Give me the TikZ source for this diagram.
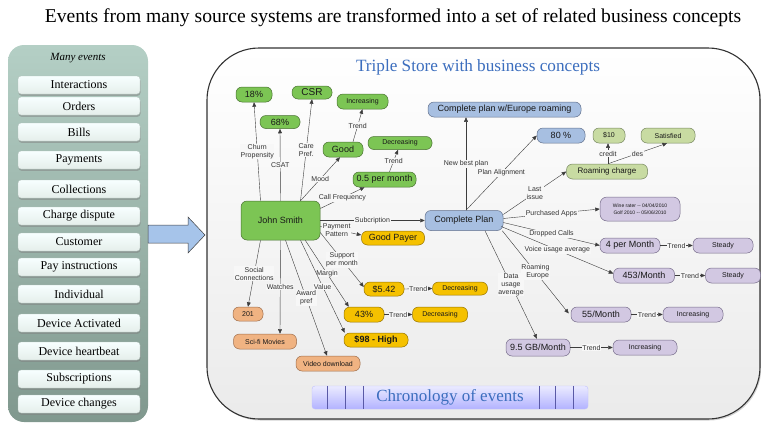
\documentclass[tikz,border=0pt]{standalone}
\usepackage{fontspec}
\setmainfont{Liberation Serif}
\newfontfamily\arialfont{Liberation Sans}
\usepackage{tikz}
\usetikzlibrary{positioning}
\usetikzlibrary{calc}
\usetikzlibrary{arrows.meta}
\usetikzlibrary{shadows}

\definecolor{greenFill}{RGB}{124,197,84}
\definecolor{greenLine}{RGB}{72,112,48}
\definecolor{oliveFill}{RGB}{200,219,162}
\definecolor{oliveLine}{RGB}{118,134,96}
\definecolor{blueFill}{RGB}{167,191,225}
\definecolor{blueLine}{RGB}{98,112,140}
\definecolor{purpleFill}{RGB}{210,200,226}
\definecolor{purpleLine}{RGB}{118,108,138}
\definecolor{yellowFill}{RGB}{245,193,0}
\definecolor{yellowLine}{RGB}{148,114,0}
\definecolor{salmonFill}{RGB}{240,179,130}
\definecolor{salmonLine}{RGB}{158,110,76}
\definecolor{sideTop}{RGB}{180,207,197}
\definecolor{sideBottom}{RGB}{128,152,142}
\definecolor{titleBlue}{RGB}{60,110,190}
\definecolor{arrowBlue}{RGB}{166,196,234}
\definecolor{linkGray}{RGB}{60,60,60}

\tikzset{
	concept/.style={draw, rounded corners=6pt, inner sep=1pt, line width=0.5pt,
		text=black!90, font=\arialfont\fontsize{9}{10}\selectfont},
	minor/.style={font=\arialfont\fontsize{7}{8}\selectfont},
	greenConcept/.style={concept, fill=greenFill, draw=greenLine},
	oliveConcept/.style={concept, fill=oliveFill, draw=oliveLine},
	blueConcept/.style={concept, fill=blueFill, draw=blueLine},
	purpleConcept/.style={concept, fill=purpleFill, draw=purpleLine},
	yellowConcept/.style={concept, fill=yellowFill, draw=yellowLine},
	salmonConcept/.style={concept, fill=salmonFill, draw=salmonLine},
	link/.style={draw=linkGray, line width=0.4pt, -{Triangle[length=4.5pt, width=3.8pt]}},
	lbl/.style={font=\arialfont\fontsize{7}{8}\selectfont, fill=black!3, inner sep=0.6pt,
		align=center, text=black!80},
	eventBox/.style={rounded corners=3pt, minimum width=122pt, minimum height=18pt,
		inner sep=0pt, top color=white!97!cyan, bottom color=sideTop!35!white,
		draw=sideBottom!60!white, line width=0.3pt,
		drop shadow={shadow xshift=0.5pt, shadow yshift=-1.8pt, opacity=0.5},
		font=\fontsize{12}{13}\selectfont},
}

\begin{document}
\begin{tikzpicture}[x=1pt, y=-1pt]
\useasboundingbox (0,0) rectangle (761,426);

\node[font=\fontsize{19.6}{22}\selectfont] (title) at (393,18)
	{Events from many source systems are transformed into a set of related business concepts};

% --- many events
\node[
	rounded corners=16pt,
	top color=sideTop,
	bottom color=sideBottom,
	minimum width=140pt,
	minimum height=377pt
] (events) at (78,233.5) {};

\node[font=\itshape\fontsize{11}{12}\selectfont] (manyEvents) at (78,58) {Many events};

\node[eventBox] (interactions) at (79,85) {Interactions};
\node[eventBox] (orders) at (79,106) {Orders};
\node[eventBox] (bills) at (79,132) {Bills};
\node[eventBox] (payments) at (79,160) {Payments};
\node[eventBox] (collections) at (79,189) {Collections};
\node[eventBox] (dispute) at (79,216) {Charge dispute};
\node[eventBox] (customer) at (79,242) {Customer};
\node[eventBox] (payInstructions) at (79,267) {Pay instructions};
\node[eventBox] (individual) at (79,294) {Individual};
\node[eventBox] (activated) at (79,323) {Device Activated};
\node[eventBox] (heartbeat) at (79,351) {Device heartbeat};
\node[eventBox] (subscriptions) at (79,379) {Subscriptions};
\node[eventBox] (deviceChanges) at (79,404) {Device changes};

% --- transform arrow
\draw[draw=black!75, fill=arrowBlue, line width=0.5pt]
	(148,225) -- (188,225) -- (188,217) -- (205,235) -- (188,253) -- (188,243) -- (148,243) -- cycle;

% --- triple store
\node[
	draw=black!80,
	line width=1.1pt,
	rounded corners=52pt,
	top color=white,
	bottom color=black!8,
	drop shadow={shadow xshift=1.2pt, shadow yshift=-1.5pt, opacity=0.35},
	minimum width=553pt,
	minimum height=371pt
] (store) at (483.5,233.5) {};

\node[font=\fontsize{17.2}{19}\selectfont, text=titleBlue] (storeTitle) at (478,67)
	{Triple Store with business concepts};

\node[
	rounded corners=3pt,
	top color=blue!8,
	bottom color=blue!30!white,
	draw=blue!25!white,
	minimum width=276pt,
	minimum height=23pt,
	font=\fontsize{17}{20}\selectfont,
	text=titleBlue
] (chrono) at (450,397.5) {Chronology of events};

\draw[blue!30!gray] ($(chrono.north west)+(15,0)$) -- ($(chrono.south west)+(15,0)$);
\draw[blue!30!gray] ($(chrono.north west)+(33,0)$) -- ($(chrono.south west)+(33,0)$);
\draw[blue!30!gray] ($(chrono.north west)+(51,0)$) -- ($(chrono.south west)+(51,0)$);
\draw[blue!30!gray] ($(chrono.north east)+(-15,0)$) -- ($(chrono.south east)+(-15,0)$);
\draw[blue!30!gray] ($(chrono.north east)+(-33,0)$) -- ($(chrono.south east)+(-33,0)$);
\draw[blue!30!gray] ($(chrono.north east)+(-49,0)$) -- ($(chrono.south east)+(-49,0)$);

% --- customer concepts
\node[greenConcept, minimum width=79pt, minimum height=39pt] (johnSmith) at (280.5,220.5) {John Smith};
\node[greenConcept, minimum width=36pt, minimum height=15pt] (churn) at (254,94.5) {18\%};
\node[greenConcept, minimum width=40pt, minimum height=13pt] (csat) at (280,122) {68\%};
\node[greenConcept, minimum width=40pt, minimum height=13pt, font=\arialfont\fontsize{10}{11}\selectfont] (carePref) at (312,92.5) {CSR};
\node[greenConcept, minimum width=40pt, minimum height=15pt] (mood) at (343,149.5) {Good};
\node[greenConcept, minor, minimum width=51pt, minimum height=15pt] (moodTrend) at (362.5,101.5) {Increasing};
\node[greenConcept, minimum width=63pt, minimum height=15pt] (callFreq) at (384.5,179.5) {0.5 per month};
\node[greenConcept, minor, minimum width=64pt, minimum height=13pt] (callTrend) at (400,143) {Decreasing};

\draw[link] ($(johnSmith.north)+(-20,0)$) -- (churn.south)
	node[midway, lbl]{Churn\\Propensity};
\draw[link] (johnSmith.north) -- (csat.south)
	node[midway, lbl]{CSAT};
\draw[link] ($(johnSmith.north)+(20,0)$) -- (carePref.south)
	node[midway, lbl]{Care\\Pref.};
\draw[link] ($(johnSmith.north)+(20,0)$) -- ($(mood.south)+(-3,0)$)
	node[midway, lbl]{Mood};
\draw[link] ($(johnSmith.east)+(0,-12)$) -- ($(callFreq.south)+(-20,0)$)
	node[midway, lbl]{Call Frequency};
\draw[link] ($(mood.north)+(10,0)$) -- (moodTrend.south)
	node[midway, lbl]{Trend};
\draw[link] ($(callFreq.north)+(5,0)$) -- ($(callTrend.south)+(-2,0)$)
	node[midway, lbl]{Trend};

% ---
\node[yellowConcept, minimum width=63pt, minimum height=14pt] (goodPayer) at (393,238) {Good Payer};
\node[yellowConcept, minimum width=40pt, minimum height=14pt] (support) at (384,289) {\$5.42};
\node[yellowConcept, minor, minimum width=55pt, minimum height=13pt] (supportTrend) at (460,288.5) {Decreasing};
\node[yellowConcept, minimum width=40pt, minimum height=15pt] (margin) at (364,314.5) {43\%};
\node[yellowConcept, minor, minimum width=55pt, minimum height=15pt] (marginTrend) at (440,314.5) {Decreasing};
\node[yellowConcept, minimum width=64pt, minimum height=14pt, font=\arialfont\bfseries\fontsize{9}{10}\selectfont] (value) at (376,340) {\$98 - High};

\draw[link] ($(johnSmith.east)+(0,6)$) -- ($(goodPayer.west)+(0,-3)$)
	node[pos=0.4, lbl]{Payment\\Pattern};
\draw[link] ($(johnSmith.east)+(0,12)$) -- ($(support.west)+(0,-2)$)
	node[midway, lbl]{Support\\per month};
\draw[link] (support.east) -- (supportTrend.west)
	node[midway, lbl]{Trend};
\draw[link] ($(johnSmith.south east)+(-15,0)$) -- ($(margin.north west)+(5,0)$)
	node[midway, lbl]{Margin};
\draw[link] (margin.east) -- (marginTrend.west)
	node[midway, lbl]{Trend};
\draw[link] ($(johnSmith.south)+(20,0)$) -- ($(value.north west)+(1,0)$)
	node[midway, lbl]{Value};

% ---
\node[salmonConcept, minor, minimum width=30pt, minimum height=14pt] (social) at (248,314) {201};
\node[salmonConcept, minor, minimum width=63pt, minimum height=15pt] (watches) at (265,341.5) {Sci-fi Movies};
\node[salmonConcept, minor, minimum width=64pt, minimum height=15pt] (award) at (328,363.5) {Video download};

\draw[link] ($(johnSmith.south)+(-20,0)$) -- (social.north)
	node[midway, lbl]{Social\\Connections};
\draw[link] (johnSmith.south) -- ($(watches.north)+(15,0)$)
	node[midway, lbl]{Watches};
\draw[link] ($(johnSmith.south)+(5,0)$) -- ($(award.north)+(-1,0)$)
	node[midway, lbl]{Award\\pref};

% --- plan concepts
\node[blueConcept, minimum width=78pt, minimum height=20pt] (completePlan) at (464,220.5) {Complete Plan};
\node[blueConcept, minimum width=153pt, minimum height=15pt] (bestPlan) at (504.5,109.5) {Complete plan w/Europe roaming};
\node[blueConcept, minimum width=48pt, minimum height=15pt] (alignment) at (561,135.5) {80 \%};
\node[oliveConcept, font=\arialfont\fontsize{8}{9}\selectfont, minimum width=81pt, minimum height=15pt] (roamingCharge) at (607,171.5) {Roaming charge};
\node[oliveConcept, minor, minimum width=32pt, minimum height=15pt] (credit) at (609,135.5) {\$10};
\node[oliveConcept, minor, minimum width=54pt, minimum height=15pt] (satisfied) at (668,135.5) {Satisfied};

\draw[link] (johnSmith.east) -- (completePlan.west)
	node[midway, lbl]{Subcription};
\draw[link] ($(completePlan.north)+(2,0)$) -- ($(bestPlan.south)+(-38.5,0)$)
	node[midway, lbl]{New best plan};
\draw[link] ($(completePlan.north)+(2,0)$) -- (alignment.west)
	node[midway, lbl]{Plan Alignment};
\draw[link] ($(completePlan.east)+(0,-6)$) -- (roamingCharge.west)
	node[midway, lbl]{Last\\issue};
\draw[link] ($(roamingCharge.north)+(1,0)$) -- ($(credit.south)+(-1,0)$)
	node[midway, lbl]{credit};
\draw[link] ($(roamingCharge.north)+(1,0)$) -- ($(satisfied.south)+(-1,0)$)
	node[midway, lbl]{des};

% ---
\node[purpleConcept, minimum width=80pt, minimum height=24pt, rounded corners=7pt, align=center,
	font=\arialfont\fontsize{5}{6.5}\selectfont] (apps) at (640,209)
	{Wine rater -- 04/04/2010\\Golf 2010 -- 05/06/2010};
\node[purpleConcept, minimum width=60pt, minimum height=15pt] (droppedCalls) at (630,245.5) {4 per Month};
\node[purpleConcept, minor, minimum width=60pt, minimum height=15pt] (droppedTrend) at (723,245.5) {Steady};
\node[purpleConcept, minimum width=61pt, minimum height=15pt] (voiceUsage) at (644,275.5) {453/Month};
\node[purpleConcept, minor, minimum width=55pt, minimum height=15pt] (voiceTrend) at (733,275.5) {Steady};
\node[purpleConcept, minimum width=60pt, minimum height=15pt] (roamingEurope) at (601,314.5) {55/Month};
\node[purpleConcept, minor, minimum width=60pt, minimum height=15pt] (roamingTrend) at (693,314.5) {Increasing};
\node[purpleConcept, minimum width=64pt, minimum height=17pt] (dataUsage) at (538,347.5) {9.5 GB/Month};
\node[purpleConcept, minor, minimum width=64pt, minimum height=15pt] (dataTrend) at (645,347.5) {Increasing};

\draw[link] ($(completePlan.east)+(0,-2)$) -- (apps.west)
	node[midway, lbl]{Purchased Apps};
\draw[link] ($(completePlan.east)+(0,2)$) -- (droppedCalls.west)
	node[midway, lbl]{Dropped Calls};
\draw[link] ($(completePlan.east)+(-2,6)$) -- ($(voiceUsage.west)+(0,-2)$)
	node[midway, lbl]{Voice usage average};
\draw[link] ($(completePlan.south east)+(-1,0)$) -- ($(roamingEurope.west)+(-2,-1)$)
	node[midway, lbl]{Roaming\\- Europe};
\draw[link] ($(completePlan.south)+(21,0)$) -- ($(dataUsage.north)+(-1,0)$)
	node[midway, lbl]{Data\\usage\\average};

\draw[link] (droppedCalls.east) -- (droppedTrend.west)
	node[midway, lbl]{Trend};
\draw[link] (voiceUsage.east) -- (voiceTrend.west)
	node[midway, lbl]{Trend};
\draw[link] (roamingEurope.east) -- (roamingTrend.west)
	node[midway, lbl]{Trend};
\draw[link] (dataUsage.east) -- (dataTrend.west)
	node[midway, lbl]{Trend};

\end{tikzpicture}
\end{document}
